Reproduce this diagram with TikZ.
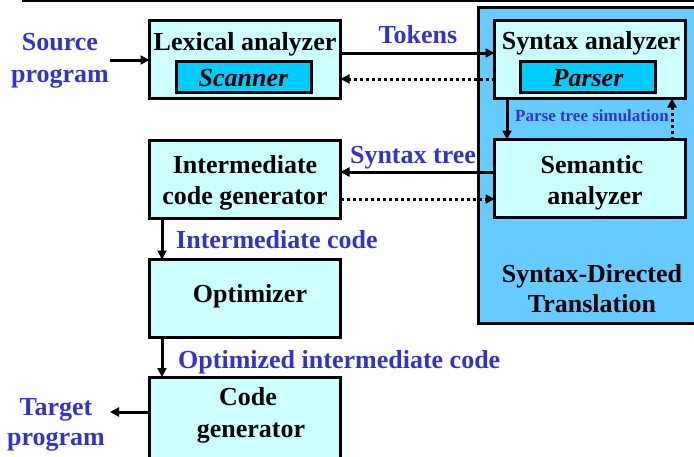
\documentclass[tikz,border=0pt]{standalone}
\usepackage{fontspec}
\setmainfont{Liberation Serif}
\usetikzlibrary{arrows.meta}
\definecolor{lcyan}{HTML}{CCFFFF}
\definecolor{icyan}{HTML}{00CCFF}
\definecolor{bigblue}{HTML}{66CCFF}
\definecolor{lblue}{HTML}{3333CC}
\begin{document}
\begin{tikzpicture}[x=1pt,y=-1pt,
  box/.style={draw=black, line width=3pt, fill=lcyan, minimum width=191pt, minimum height=78pt, inner sep=0pt, outer sep=0pt},
  inbox/.style={draw=black, line width=3pt, fill=icyan, minimum width=135pt, minimum height=31pt, inner sep=0pt, outer sep=0pt},
  bigbox/.style={draw=black, line width=3pt, fill=bigblue, minimum width=222pt, minimum height=316pt, inner sep=0pt, outer sep=0pt},
  txt/.style={font=\bfseries\fontsize{26}{31}\selectfont, anchor=base, inner sep=0pt},
  itxt/.style={font=\bfseries\itshape\fontsize{26}{31}\selectfont, anchor=base, inner sep=0pt},
  btxt/.style={txt, text=lblue},
  arr/.style={line width=3pt, -{Triangle[length=9pt,width=9pt]}},
  darr/.style={line width=3pt, dash pattern=on 3pt off 3pt, -{Triangle[length=9pt,width=9pt]}}
]
\useasboundingbox (0,0) rectangle (694,456);
\draw[line width=2.5pt] (22,1) -- (694,1);

\node[bigbox] (sdt) at (589,165.5) {};
\node[box] (lex) at (245,59.5) {};
\node[inbox] (scan) at (243.5,76.5) {};
\node[box] (syn) at (590,59.5) {};
\node[inbox] (pars) at (588,77) {};
\node[box] (sem) at (590,178.5) {};
\node[box] (icg) at (245,179.5) {};
\node[box] (opt) at (245,298.5) {};
\node[box, minimum height=95pt] (cg) at (245,424.5) {};

% box texts
\node[txt] (lext) at (245,50) {Lexical analyzer};
\node[itxt] (scant) at (243.5,86) {Scanner};
\node[txt] (synt) at (591,49) {Syntax analyzer};
\node[itxt] (parst) at (588,86) {Parser};
\node[txt] (semt1) at (592,173) {Semantic};
\node[txt] (semt2) at (595,204) {analyzer};
\node[txt] (icgt1) at (245,173) {Intermediate};
\node[txt] (icgt2) at (245,204) {code generator};
\node[txt] (optt) at (250,302) {Optimizer};
\node[txt] (cgt1) at (248,405) {Code};
\node[txt] (cgt2) at (251,437) {generator};
\node[txt] (sdtt1) at (592,282) {Syntax-Directed};
\node[txt] (sdtt2) at (592,312) {Translation};

% blue labels
\node[btxt] (src1) at (60,50) {Source};
\node[btxt] (src2) at (60,82) {program};
\node[btxt] (tgt1) at (56,415) {Target};
\node[btxt] (tgt2) at (56,445) {program};
\node[btxt] (tok) at (418,43) {Tokens};
\node[btxt] (stree) at (413,163) {Syntax tree};
\node[btxt, anchor=base west] (icode) at (176,248) {Intermediate code};
\node[btxt, anchor=base west] (ocode) at (178,368) {Optimized intermediate code};
\node[font=\bfseries\fontsize{17}{20}\selectfont, text=lblue, anchor=base west, inner sep=0pt] (pts) at (515,121) {Parse tree simulation};

% connectors
\coordinate (srcin) at (110,60);
\draw[arr] (srcin) -- (srcin -| lex.west);
\draw[arr] ([yshift=6.5pt]lex.east) -- ([yshift=6.5pt]syn.west);
\draw[darr] ([yshift=-19.5pt]syn.west) -- ([yshift=-19.5pt]lex.east);
\draw[arr] ([xshift=-83pt]syn.south) -- ([xshift=-83pt]sem.north);
\draw[darr] ([xshift=82pt]sem.north) -- ([xshift=82pt]syn.south);
\coordinate (stY) at ([yshift=6.5pt]sem.west);
\draw[arr] (stY) -- (stY -| icg.east);
\coordinate (dY) at ([yshift=-19.5pt]icg.east);
\draw[darr] (dY) -- (dY -| sem.west);
\draw[arr] ([xshift=-83pt]icg.south) -- ([xshift=-83pt]opt.north);
\draw[arr] ([xshift=-83pt]opt.south) -- ([xshift=-83pt]cg.north);
\coordinate (tgtout) at (110,412);
\draw[arr] (tgtout -| cg.west) -- (tgtout);
\end{tikzpicture}
\end{document}
